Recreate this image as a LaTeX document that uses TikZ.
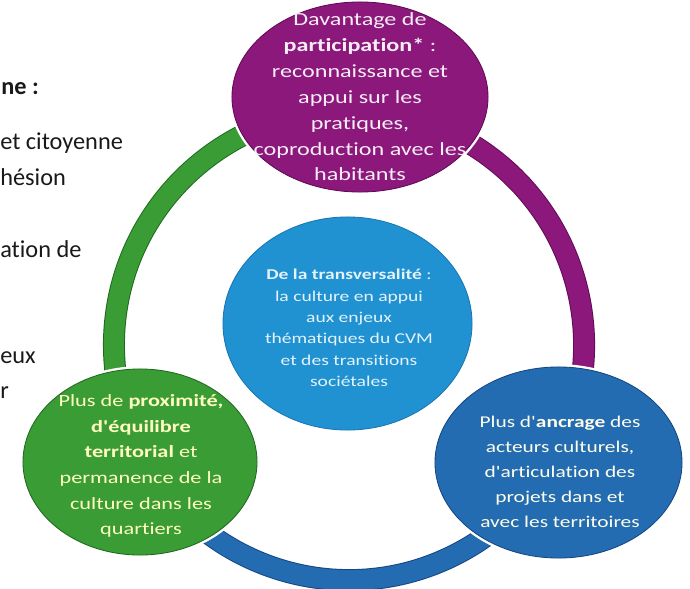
\documentclass[tikz,border=0pt]{standalone}
\usepackage{fontspec}
\setmainfont{Carlito}[Ligatures={NoCommon}]
\newfontfamily\bubblefont{Carlito}[FakeStretch=1.3,Ligatures={NoCommon}]
\usetikzlibrary{shapes.geometric}

\definecolor{purp}{RGB}{140,24,124}
\definecolor{purpdark}{RGB}{95,10,85}
\definecolor{grn}{RGB}{58,156,52}
\definecolor{grndark}{RGB}{30,105,30}
\definecolor{lblue}{RGB}{32,146,210}
\definecolor{lbluedark}{RGB}{25,118,178}
\definecolor{dblue}{RGB}{36,108,178}
\definecolor{dbluedark}{RGB}{20,70,130}

\begin{document}
\begin{tikzpicture}[x=0.025cm,y=0.025cm,
  bubble/.style={ellipse,inner sep=0pt,line width=0.6pt,preaction={draw=white,line width=4pt}},
  ringarc/.style={line width=0.7pt,double distance=14.2pt},
  btext/.style={align=center,inner sep=0pt},
  lefttxt/.style={anchor=base west,inner sep=0pt,font=\fontsize{17.3}{20}\selectfont,text=black!90}]
\useasboundingbox (0,0) rectangle (690,588);

% text cut off on the left
\node[lefttxt] (l1) at (1,494) {\textbf{ne :}};
\node[lefttxt] (l2) at (0,439) {et citoyenne};
\node[lefttxt] (l3) at (0,403) {hésion};
\node[lefttxt] (l4) at (0,331) {ation de};
\node[lefttxt] (l5) at (0,225) {eux};
\node[lefttxt] (l6) at (0,190) {r};

% ring
\coordinate (ring) at (349,243);
\draw[ringarc,draw=grndark,double=grn] ([shift={(90:5.875cm)}]ring) arc[start angle=90,end angle=210,radius=5.875cm];
\draw[ringarc,draw=dbluedark,double=dblue] ([shift={(210:5.875cm)}]ring) arc[start angle=210,end angle=330,radius=5.875cm];
\draw[ringarc,draw=purpdark,double=purp] ([shift={(330:5.875cm)}]ring) arc[start angle=330,end angle=450,radius=5.875cm];

% bubbles
\node[bubble,fill=purp,draw=purpdark,minimum width=6.4cm,minimum height=4.75cm] (part) at (360,491) {};
\node[bubble,fill=lblue,draw=lbluedark,minimum width=6.225cm,minimum height=5.325cm] (transv) at (347.5,264.5) {};
\node[bubble,fill=grn,draw=grndark,minimum width=5.85cm,minimum height=4.65cm] (prox) at (140,126) {};
\node[bubble,fill=dblue,draw=dbluedark,minimum width=6.175cm,minimum height=4.775cm] (ancr) at (558.5,125.5) {};

\node[btext,text=white!92!purp,font={\bubblefont\fontsize{13.2}{18.4}\selectfont}] (parttxt) at (part) {Davantage de\\ \textbf{participation*} :\\ reconnaissance et\\ appui sur les\\ pratiques,\\ coproduction avec les\\ habitants};
\node[btext,text=white!88!lblue,font={\bubblefont\fontsize{10.7}{15.2}\selectfont}] (transvtxt) at (349,260) {\textbf{De la transversalité} :\\ la culture en appui\\ aux enjeux\\ thématiques du CVM\\ et des transitions\\ sociétales};
\node[btext,text=yellow!25!white,font={\bubblefont\fontsize{12.2}{18.2}\selectfont}] (proxtxt) at (141,122) {Plus de \textbf{proximité,}\\ \textbf{d'équilibre}\\ \textbf{territorial} et\\ permanence de la\\ culture dans les\\ quartiers};
\node[btext,text=white!92!yellow,font={\bubblefont\fontsize{11.7}{17.8}\selectfont}] (ancrtxt) at (560,116) {Plus d'\textbf{ancrage} des\\ acteurs culturels,\\ d'articulation des\\ projets dans et\\ avec les territoires};
\end{tikzpicture}
\end{document}
